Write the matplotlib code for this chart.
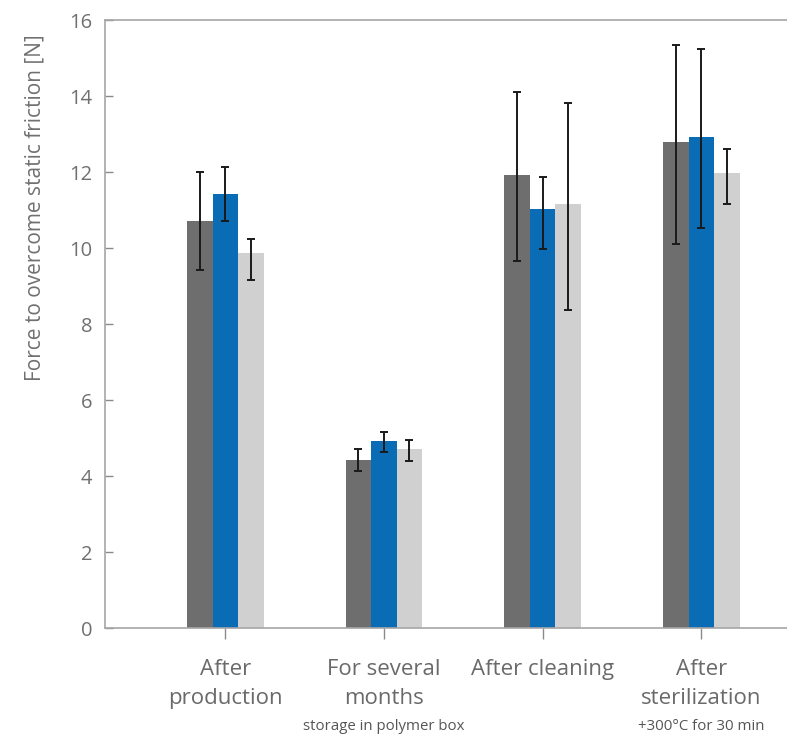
import matplotlib
matplotlib.use("Agg")
import matplotlib.pyplot as plt
import matplotlib.transforms as mtransforms
import numpy as np

plt.rcParams['font.family'] = ['Open Sans', 'DejaVu Sans']

categories = ["After\nproduction", "For several\nmonths", "After cleaning", "After\nsterilization"]
notes = ["", "storage in polymer box", "", "+300°C for 30 min"]

gray_vals = [10.72, 4.41, 11.93, 12.79]
gray_lo = [1.30, 0.28, 2.26, 2.69]
gray_hi = [1.28, 0.29, 2.18, 2.55]

blue_vals = [11.42, 4.93, 11.02, 12.93]
blue_lo = [0.71, 0.29, 1.05, 2.40]
blue_hi = [0.72, 0.24, 0.85, 2.32]

light_vals = [9.86, 4.70, 11.15, 11.97]
light_lo = [0.70, 0.31, 2.78, 0.82]
light_hi = [0.38, 0.25, 2.67, 0.64]

yticks = [0, 2, 4, 6, 8, 10, 12, 14, 16]

fig = plt.figure(figsize=(7.87, 7.40), dpi=100)
ax = fig.add_axes([105/787, 1 - 628/740, 1 - 105/787 + 0.002, (628 - 20)/740])

x = np.arange(len(categories))
w = 0.161
series = [
    (gray_vals, gray_lo, gray_hi, "#6e6e6e", -w),
    (blue_vals, blue_lo, blue_hi, "#0a6cb4", 0.0),
    (light_vals, light_lo, light_hi, "#d0d0d0", w),
]
for vals, lo, hi, col, off in series:
    ax.bar(x + off, vals, width=w, color=col, zorder=2)
    ax.errorbar(x + off, vals, yerr=[lo, hi], fmt='none', ecolor="#1a1a1a",
                elinewidth=1.4, capsize=2.8, capthick=1.4, zorder=3)

ax.set_xlim(-0.758, 3.55)
ax.set_ylim(0, 16)
ax.set_yticks(yticks)
ax.set_yticklabels([str(t) for t in yticks])
ax.set_xticks(x)
ax.set_xticklabels(categories, fontsize=16, color="#6a6a6a", linespacing=1.55)

for side in ["left", "bottom", "top"]:
    ax.spines[side].set_color("#a6a6a6")
    ax.spines[side].set_linewidth(1.2)
ax.spines["right"].set_visible(False)

ax.tick_params(axis='y', direction='in', length=6, width=1, color="#8a8a8a",
               labelsize=14.5, labelcolor="#707070", pad=9)
ax.tick_params(axis='x', direction='out', length=8, width=1, color="#8a8a8a", pad=14)

trans = mtransforms.blended_transform_factory(ax.transData, fig.transFigure)
for xi, note in zip(x, notes):
    if note:
        ax.text(xi, 1 - 727/740, note, transform=trans, ha='center', va='center',
                fontsize=10.8, color="#555555")

fig.text(35/787, 1 - 208/740, "Force to overcome static friction [N]", rotation=90,
         ha='center', va='center', fontsize=15, color="#707070")

fig.savefig("out.png", dpi=100)
